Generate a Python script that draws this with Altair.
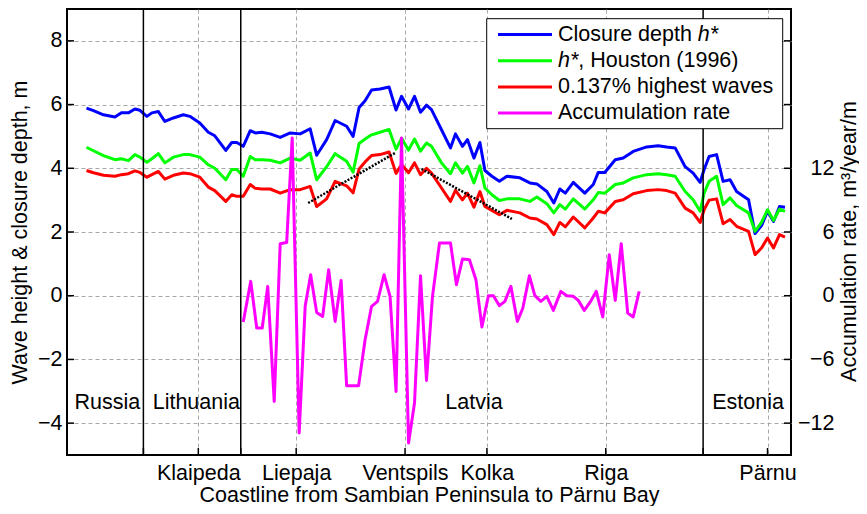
import altair as alt
import pandas as pd

# ---------------- data ----------------
x_km = [3.9, 5.3, 7.3, 9.6, 10.9, 12.3, 13.6, 14.6, 16.0, 17.0, 18.3, 19.6, 21.3, 23.3, 24.6,
        26.6, 28.3, 29.6, 31.8, 33.0, 34.0, 35.3, 36.7, 37.7, 39.0, 40.7, 42.7, 44.7, 46.7,
        48.7, 50.0, 52.0, 53.7, 56.0, 57.3, 58.5, 59.7, 61.0, 62.7, 64.5, 65.9, 67.0, 68.4,
        69.6, 70.8, 72.0, 73.0, 75.0, 76.8, 77.8, 79.2, 80.2, 81.5, 82.7, 83.7, 85.1, 86.6,
        88.1, 90.7, 92.7, 94.1, 96.1, 97.5, 98.7, 99.8, 101.4, 103.7, 105.4, 106.4, 107.7,
        109.8, 111.4, 113.4, 116.1, 118.4, 120.1, 121.8, 123.8, 125.4, 126.8, 127.6, 128.6,
        130.1, 131.4, 132.8, 134.1, 136.5, 137.8, 139.1, 140.3, 141.5, 142.7, 143.8]

closure_depth = [5.89, 5.81, 5.68, 5.61, 5.74, 5.74, 5.86, 5.82, 5.63, 5.74, 5.78, 5.47, 5.58, 5.68, 5.63,
                 5.42, 5.13, 5.02, 4.56, 4.81, 4.81, 4.69, 5.18, 5.11, 5.13, 5.08, 4.97, 5.11, 5.08,
                 5.24, 4.41, 4.90, 5.50, 5.32, 5.00, 5.91, 6.12, 6.46, 6.49, 6.55, 5.83, 6.26, 5.86,
                 6.26, 5.76, 5.98, 5.84, 5.21, 4.64, 5.08, 4.69, 4.90, 4.32, 4.81, 3.93, 3.75, 3.59,
                 3.75, 3.70, 3.54, 3.51, 3.27, 2.91, 3.35, 3.22, 3.56, 3.22, 3.49, 3.87, 3.87,
                 4.27, 4.32, 4.53, 4.67, 4.71, 4.67, 4.64, 4.05, 3.85, 3.56, 3.96, 4.37,
                 4.43, 3.59, 3.64, 3.27, 3.01, 1.95, 2.20, 2.65, 2.33, 2.80, 2.78]

houston_depth = [4.66, 4.55, 4.40, 4.27, 4.30, 4.24, 4.43, 4.35, 4.19, 4.30, 4.46, 4.17, 4.35, 4.43, 4.43,
                 4.35, 4.11, 4.00, 3.64, 3.96, 3.96, 3.75, 4.37, 4.27, 4.27, 4.25, 4.17, 4.32, 4.25,
                 4.48, 3.64, 4.05, 4.46, 4.22, 3.88, 4.78, 4.92, 5.05, 5.13, 5.22, 4.60, 4.94, 4.57,
                 4.92, 4.54, 4.79, 4.69, 4.17, 3.83, 4.17, 3.85, 4.06, 3.54, 4.08, 3.38, 3.17, 2.99,
                 3.04, 3.04, 2.96, 3.10, 2.89, 2.60, 2.86, 2.72, 3.04, 2.72, 3.01, 3.24, 3.22,
                 3.49, 3.54, 3.70, 3.80, 3.83, 3.80, 3.75, 3.27, 3.01, 2.65, 3.22, 3.59,
                 3.75, 2.86, 3.07, 2.83, 2.60, 2.02, 2.30, 2.70, 2.36, 2.72, 2.65]

highest_waves = [3.93, 3.86, 3.78, 3.75, 3.80, 3.83, 3.92, 3.87, 3.72, 3.80, 3.90, 3.66, 3.78, 3.85, 3.83,
                 3.72, 3.41, 3.30, 2.96, 3.17, 3.12, 3.12, 3.49, 3.37, 3.35, 3.35, 3.22, 3.33, 3.33,
                 3.43, 2.80, 3.04, 3.59, 3.45, 3.23, 3.98, 4.20, 4.40, 4.43, 4.51, 3.84, 4.12, 3.86,
                 4.17, 3.80, 4.00, 3.85, 3.38, 2.96, 3.31, 3.01, 3.22, 2.78, 3.27, 2.80, 2.68, 2.54,
                 2.68, 2.60, 2.44, 2.41, 2.23, 1.92, 2.30, 2.16, 2.47, 2.13, 2.44, 2.65, 2.60,
                 2.96, 3.01, 3.20, 3.30, 3.33, 3.30, 3.22, 2.75, 2.60, 2.30, 2.70, 3.00,
                 3.04, 2.26, 2.39, 2.18, 2.02, 1.29, 1.50, 1.81, 1.50, 1.92, 1.84]

acc_x = [35.3, 36.8, 38.0, 39.1, 40.2, 41.5, 42.7, 44.0, 45.1, 46.5, 47.7, 48.8, 50.0, 51.2, 52.4,
         53.7, 54.9, 56.0, 58.4, 59.7, 61.0, 62.2, 63.5, 64.7, 65.9, 67.0, 68.4, 69.6, 70.8,
         72.0, 73.2, 74.6, 76.8, 78.0, 79.2, 80.6, 81.9, 83.1, 84.4, 85.4, 86.6, 87.7, 88.9,
         90.2, 91.3, 92.6, 93.7, 94.9, 96.1, 97.4, 98.9, 100.1, 101.4, 102.4, 103.6, 104.9,
         106.0, 107.3, 108.6, 109.8, 111.0, 112.3, 113.4, 114.6]
acc_rate = [-2.48, 1.35, -3.04, -3.04, 0.88, -9.95, 4.90, 5.02, 14.85, -12.93, -1.00, 1.98, -1.57, -1.95, 2.45,
            -2.42, 1.44, -8.47, -8.47, -4.14, -1.00, -0.53, 1.98, -0.06, -9.01, 14.85, -13.87, -10.10, 1.88,
            -7.98, -0.06, 4.96, 4.96, 1.04, 3.45, 3.39, 1.51, -2.95, 0.00, 0.00, -0.94, -0.53, 0.88,
            -2.42, -1.16, 1.88, 0.00, -0.53, -0.06, -1.38, 0.41, 0.00, -0.06, -0.44, -1.38, -0.50,
            0.41, -2.00, 3.86, -0.44, 4.90, -1.63, -2.00, 0.41]

trend_x = [48.3, 65.9, 71.0, 89.1]
trend_y = [2.91, 4.50, 3.98, 2.41]
trend_id = ["a", "a", "b", "b"]

city_names = ["Klaipeda", "Liepaja", "Ventspils", "Kolka", "Riga", "Pärnu"]
city_pos = [26.3, 45.9, 67.7, 84.1, 107.9, 140.3]
border_pos = [15.3, 34.8, 127.4]

country_names = ["Russia", "Lithuania", "Latvia", "Estonia"]
country_x = [8.1, 25.9, 81.5, 136.4]
country_y = [-3.36, -3.36, -3.36, -3.36]

left_ticks = [-4, -2, 0, 2, 4, 6, 8]
right_ticks = [-12, -6, 0, 6, 12]

series_names = ["Closure depth h*", "h*, Houston (1996)", "0.137% highest waves", "Accumulation rate"]
series_colors = ["#0000ff", "#00ff00", "#ff0000", "#ff00ff"]

x_title = "Coastline from Sambian Peninsula to Pärnu Bay"
y_title = "Wave height & closure depth, m"
y2_title = "Accumulation rate, m³/year/m"

# ---------------- chart ----------------
W, H = 724, 446
F = "Liberation Sans"
FS = 21.5

xs = alt.Scale(domain=[0, 145], nice=False, zero=False)
ys = alt.Scale(domain=[-5, 9], nice=False, zero=False)
yr = alt.Scale(domain=[-15, 27], nice=False, zero=False)

label_expr = "".join(f"datum.value == {p} ? '{c}' : " for p, c in zip(city_pos, city_names)) + "''"
x_axis = alt.Axis(values=city_pos, labelExpr=label_expr, title=x_title, grid=True, labelPadding=7,
                  titlePadding=1, labelFlush=False, labelOverlap=False)
y_axis = alt.Axis(values=left_ticks, title=y_title, grid=True, labelPadding=5, titlePadding=6,
                  labelFlush=False)


def X(field):
    return alt.X(field, scale=xs, axis=x_axis, title=x_title)


def Y(field):
    return alt.Y(field, scale=ys, axis=y_axis, title=y_title)


n = len(x_km)
depth_df = pd.DataFrame({
    "x": x_km * 3,
    "value": closure_depth + houston_depth + highest_waves,
    "series": [series_names[0]] * n + [series_names[1]] * n + [series_names[2]] * n,
})
acc_df = pd.DataFrame({"x": acc_x, "rate": acc_rate})
trend_df = pd.DataFrame({"x": trend_x, "value": trend_y, "id": trend_id})
country_df = pd.DataFrame({"x": country_x, "value": country_y, "name": country_names})

lines = alt.Chart(depth_df).mark_line(strokeWidth=3, strokeJoin="round").encode(
    x=X("x:Q"),
    y=Y("value:Q"),
    color=alt.Color("series:N", scale=alt.Scale(domain=series_names[:3], range=series_colors[:3]),
                    legend=None),
    order=alt.Order("series:N"),
)

borders = alt.Chart(pd.DataFrame({"x": border_pos})).mark_rule(color="black", strokeWidth=1.5).encode(
    x=X("x:Q"))

trends = alt.Chart(trend_df).mark_line(color="black", strokeWidth=2.5, strokeDash=[2, 1.5]).encode(
    x=X("x:Q"), y=Y("value:Q"), detail="id:N")

countries = alt.Chart(country_df).mark_text(fontSize=FS, font=F, color="black", align="center",
                                            baseline="middle").encode(
    x=X("x:Q"), y=Y("value:Q"), text="name:N")

xticks = alt.Chart(pd.DataFrame({"x": city_pos + border_pos})).mark_rule(color="black", strokeWidth=1.5).encode(
    x=X("x:Q"), y=alt.value(H), y2=alt.value(H - 7))
yticks_l = alt.Chart(pd.DataFrame({"value": left_ticks})).mark_rule(color="black", strokeWidth=1.5).encode(
    y=Y("value:Q"), x=alt.value(0), x2=alt.value(7))
yticks_r = alt.Chart(pd.DataFrame({"value": left_ticks})).mark_rule(color="black", strokeWidth=1.5).encode(
    y=Y("value:Q"), x=alt.value(W - 7), x2=alt.value(W))

left_group = alt.layer(lines, borders, trends, countries, xticks, yticks_l, yticks_r)

accum = alt.Chart(acc_df).mark_line(color=series_colors[3], strokeWidth=3, strokeJoin="round").encode(
    x=X("x:Q"),
    y=alt.Y("rate:Q", scale=yr, axis=alt.Axis(orient="right", values=right_ticks, title=y2_title,
                                              grid=False, labelAlign="right", labelPadding=43,
                                              titleAngle=270, titleX=58, titleY=232,
                                              titleBaseline="middle", titleAlign="center",
                                              labelFlush=False)),
)

# ---- legend (drawn by hand so that h* can be italic) ----
one = pd.DataFrame({"a": [0]})
box_x0, box_x1, box_y0, box_y1 = 419.7, 715.7, 9.7, 119.7
leg_layers = [alt.Chart(one).mark_rect(fill="white", stroke="black", strokeWidth=1).encode(
    x=alt.value(box_x0), x2=alt.value(box_x1), y=alt.value(box_y0), y2=alt.value(box_y1))]
row_y = [25.5 + 26.2 * i for i in range(4)]
tx = 491
h_w = (0.556 + 0.389) * FS
closure_w = 6.503 * FS
text_parts = [
    [(series_names[0][:-2], "normal", tx), ("h*", "italic", tx + closure_w)],
    [("h*", "italic", tx), (series_names[1][2:], "normal", tx + h_w)],
    [(series_names[2], "normal", tx)],
    [(series_names[3], "normal", tx)],
]
for i in range(4):
    leg_layers.append(alt.Chart(one).mark_rule(color=series_colors[i], strokeWidth=3).encode(
        x=alt.value(431), x2=alt.value(485), y=alt.value(row_y[i])))
    for txt, style, xpos in text_parts[i]:
        leg_layers.append(alt.Chart(one).mark_text(text=txt, fontStyle=style, fontSize=FS, font=F,
                                                   color="black", align="left", baseline="middle").encode(
            x=alt.value(xpos), y=alt.value(row_y[i])))
legend_group = alt.layer(*leg_layers)

chart = alt.layer(left_group, accum, legend_group).resolve_scale(y="independent").properties(
    width=W, height=H,
    autosize=alt.AutoSizeParams(type="none"),
    padding={"left": 59, "top": 1, "right": 68, "bottom": 51},
).configure_axis(
    labelFont=F, titleFont=F, labelFontSize=FS, titleFontSize=FS, labelColor="black",
    titleColor="black", titleFontWeight="normal", domain=False, ticks=False,
    gridColor="#a8a8a8", gridDash=[4, 3], gridWidth=1,
).configure_view(stroke="black", strokeWidth=2)

chart.save("out.html", embed_options={"renderer": "svg", "actions": False})
